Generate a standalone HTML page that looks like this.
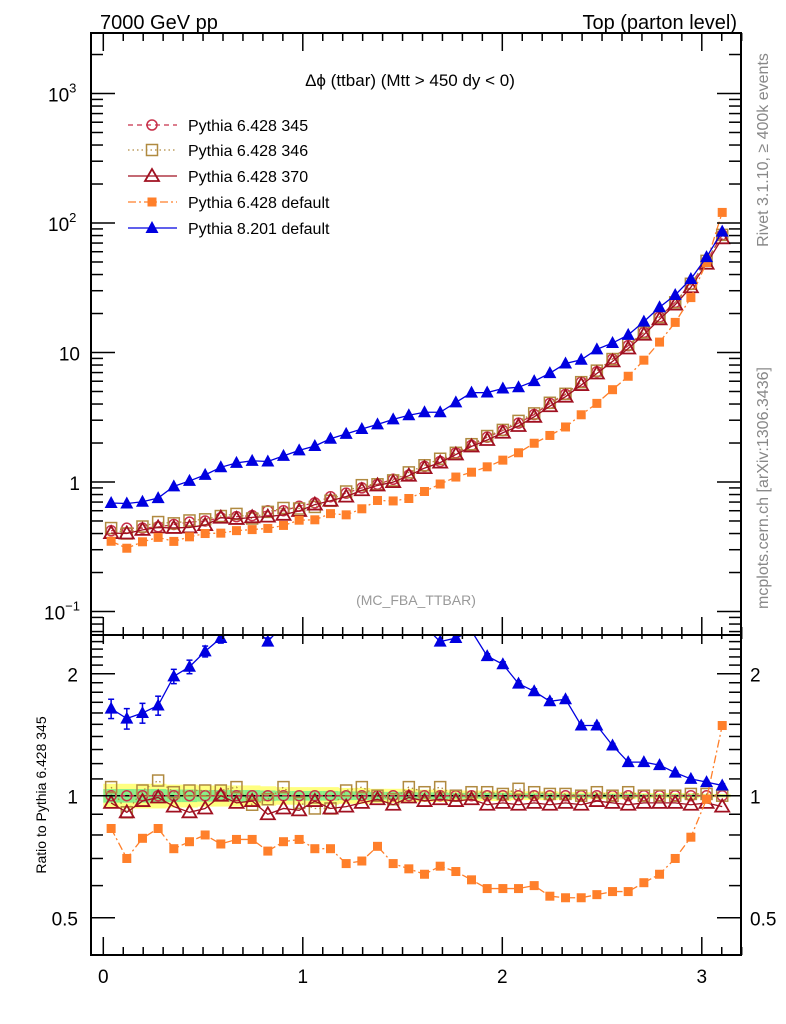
<!DOCTYPE html>
<html><head><meta charset="utf-8"><style>
html,body{margin:0;padding:0;background:#fff}
svg{display:block;font-family:"Liberation Sans",sans-serif}
</style></head><body>
<svg id="c" width="786" height="1024" viewBox="0 0 786 1024" xmlns="http://www.w3.org/2000/svg">
<defs>
<clipPath id="cm"><rect x="91" y="33" width="650" height="602"/></clipPath>
<clipPath id="cr"><rect x="91" y="635" width="650" height="320"/></clipPath>
</defs>
<text x="100" y="29" font-size="20">7000 GeV pp</text>
<text x="737" y="29" font-size="20" text-anchor="end">Top (parton level)</text>
<text x="410" y="86" font-size="17" text-anchor="middle">Δϕ (ttbar) (Mtt &gt; 450 dy &lt; 0)</text>
<text x="416" y="605" font-size="14" fill="#999" text-anchor="middle">(MC_FBA_TTBAR)</text>
<text transform="translate(768,150) rotate(-90)" font-size="16" fill="#888" text-anchor="middle">Rivet 3.1.10, ≥ 400k events</text>
<text transform="translate(768,488) rotate(-90)" font-size="16" fill="#888" text-anchor="middle">mcplots.cern.ch [arXiv:1306.3436]</text>
<text transform="translate(46,795) rotate(-90)" font-size="14" text-anchor="middle">Ratio to Pythia 6.428 345</text>
<g id="g"></g>
<rect x="91" y="33" width="650" height="602" fill="none" stroke="#000" stroke-width="2"/>
<rect x="91" y="635" width="650" height="320" fill="none" stroke="#000" stroke-width="2"/>
</svg>
<script>
const base345 = [0.42,0.44,0.44,0.45,0.47,0.49,0.50,0.53,0.54,0.55,0.60,0.60,0.65,0.69,0.77,0.82,0.90,0.96,1.05,1.13,1.32,1.44,1.68,1.92,2.22,2.5,2.85,3.32,4.05,4.75,5.9,7.1,8.9,11.3,14.3,18.8,24.4,33.6,50.5,81];
const ratio346 = [1.05,0.91,1.03,1.09,1.02,1.03,1.03,1.03,1.05,0.95,0.98,1.05,0.96,0.93,0.93,1.03,1.05,1.00,0.98,1.05,1.02,1.05,1.0,1.02,1.02,1.01,1.04,1.02,1.01,1.01,1.0,1.02,1.0,1.02,1.0,1.0,1.0,1.01,1.01,1.0];
const ratio370 = [0.96,0.91,0.97,0.99,0.94,0.91,0.93,1.0,0.96,0.97,0.90,0.93,0.92,0.97,0.93,0.94,0.96,0.98,0.95,0.99,0.97,0.98,0.97,0.98,0.95,0.96,0.95,0.96,0.95,0.96,0.95,0.97,0.96,0.95,0.96,0.96,0.96,0.95,0.96,0.94];
const ratioDef6 = [0.83,0.70,0.785,0.83,0.74,0.77,0.80,0.76,0.78,0.78,0.73,0.77,0.78,0.74,0.74,0.68,0.69,0.75,0.68,0.66,0.64,0.67,0.65,0.62,0.59,0.59,0.59,0.60,0.565,0.56,0.56,0.57,0.58,0.58,0.61,0.64,0.70,0.79,0.98,1.49];
const ratioDef8 = [1.64,1.55,1.60,1.67,1.97,2.08,2.27,2.45,2.6,2.65,2.4,2.65,2.7,2.75,2.8,2.87,2.85,2.9,2.9,2.9,2.62,2.4,2.45,2.55,2.21,2.11,1.89,1.81,1.71,1.73,1.49,1.49,1.33,1.21,1.21,1.19,1.14,1.10,1.08,1.06];
const errDef8 = [0.09,0.09,0.09,0.09,0.08,0.08,0.07,0.07,0.06,0.06,0.05,0.05,0.05,0.05,0.05,0.05,0.04,0.04,0.04,0.04,0.04,0.03,0.03,0.03,0.03,0.03,0.03,0.025,0.025,0.02,0.02,0.02,0.015,0.015,0.01,0.01,0.01,0.01,0.01,0.01];
const bandYellow = [0.07,0.07,0.07,0.07,0.065,0.065,0.06,0.06,0.06,0.06,0.055,0.05,0.05,0.05,0.05,0.045,0.045,0.04,0.04,0.04,0.035,0.035,0.03,0.03,0.03,0.03,0.025,0.025,0.025,0.02,0.02,0.02,0.02,0.02,0.015,0.015,0.015,0.015,0.01,0.01];
const xTicks = [0,1,2,3];
const mainTicks = [{v:1000,t:"10",e:"3"},{v:100,t:"10",e:"2"},{v:10,t:"10",e:""},{v:1,t:"1",e:""},{v:0.1,t:"10",e:"−1"}];
const ratioTicks = [{v:2,t:"2"},{v:1,t:"1"},{v:0.5,t:"0.5"}];

const NB = base345.length, W = Math.PI/NB;
const X = v => 103.3 + v*199.5;
const YM = v => 482 - Math.log10(v)*129.5;
const YR = r => 795.7 - Math.log2(r)*122;
const NS = "http://www.w3.org/2000/svg";
const g = document.getElementById('g');
function mk(tag, attrs, parent){const e=document.createElementNS(NS,tag);for(const k in attrs)e.setAttribute(k,attrs[k]);(parent||g).appendChild(e);return e;}
const cx = i => X((i+0.5)*W);

const bandG = mk('g',{});


for(let i=0;i<NB;i++){
  const x0=X(i*W), x1=X((i+1)*W), e=bandYellow[i];
  mk('rect',{x:x0,y:YR(1+e),width:x1-x0+0.5,height:YR(1-e)-YR(1+e),fill:'#ffff80'},bandG);
  mk('rect',{x:x0,y:YR(1+e*0.55),width:x1-x0+0.5,height:YR(1-e*0.55)-YR(1+e*0.55),fill:'#88ee88'},bandG);
}
const one = mk('line',{x1:91,x2:741,y1:YR(1),y2:YR(1),stroke:'#000','stroke-width':1.5});



const series = [
 {name:'pythia-6428-345', col:'#c8304a', dash:'5,4', mk:'circle', fill:'none', r: base345.map(()=>1)},
 {name:'pythia-6428-346', col:'#b08a40', dash:'1.5,3', mk:'square', fill:'none', r: ratio346},
 {name:'pythia-6428-370', col:'#a01020', dash:'', mk:'tri', fill:'none', r: ratio370},
 {name:'pythia-6428-default', col:'#ff7f2a', dash:'8,3,2,3', mk:'fsquare', fill:'#ff7f2a', r: ratioDef6},
 {name:'pythia-8201-default', col:'#0000e0', dash:'', mk:'ftri', fill:'#0000e0', r: ratioDef8, err: errDef8}
];
function marker(s,x,y,parent){
  const sw=1.5;
  if(s.mk==='circle') return mk('circle',{cx:x,cy:y,r:5,fill:'none',stroke:s.col,'stroke-width':sw},parent);
  if(s.mk==='square') return mk('rect',{x:x-5.5,y:y-5.5,width:11,height:11,fill:'none',stroke:s.col,'stroke-width':sw},parent);
  if(s.mk==='fsquare') return mk('rect',{x:x-4.5,y:y-4.5,width:9,height:9,fill:s.col},parent);
  if(s.mk==='tri') return mk('polygon',{points:`${x},${y-7} ${x-7},${y+5} ${x+7},${y+5}`,fill:'none',stroke:s.col,'stroke-width':sw+0.3},parent);
  return mk('polygon',{points:`${x},${y-7} ${x-6.5},${y+5} ${x+6.5},${y+5}`,fill:s.col},parent);
}
series.forEach(s=>{
  const gm = mk('g',{'clip-path':'url(#cm)'});
  
  
  const gr = mk('g',{'clip-path':'url(#cr)'});
  
  
  const pm=[], pr=[];
  for(let i=0;i<NB;i++){ pm.push(cx(i)+','+YM(base345[i]*s.r[i])); pr.push(cx(i)+','+YR(s.r[i])); }
  mk('polyline',{points:pm.join(' '),fill:'none',stroke:s.col,'stroke-width':1.3,'stroke-dasharray':s.dash},gm);
  mk('polyline',{points:pr.join(' '),fill:'none',stroke:s.col,'stroke-width':1.3,'stroke-dasharray':s.dash},gr);
  for(let i=0;i<NB;i++){
    const m1 = marker(s,cx(i),YM(base345[i]*s.r[i]),gm);
    
    
    if(s.err){
      const x=cx(i);
      mk('line',{x1:x,x2:x,y1:YR(s.r[i]+s.err[i]),y2:YR(s.r[i]-s.err[i]),stroke:s.col,'stroke-width':1.5},gr);
      mk('line',{x1:x-3,x2:x+3,y1:YR(s.r[i]+s.err[i]),y2:YR(s.r[i]+s.err[i]),stroke:s.col,'stroke-width':1.5},gr);
      mk('line',{x1:x-3,x2:x+3,y1:YR(s.r[i]-s.err[i]),y2:YR(s.r[i]-s.err[i]),stroke:s.col,'stroke-width':1.5},gr);
    }
    const m2 = marker(s,cx(i),YR(s.r[i]),gr);
    
    
  }
});

const legY=[125,150,176,202,228];
const labels=['Pythia 6.428 345','Pythia 6.428 346','Pythia 6.428 370','Pythia 6.428 default','Pythia 8.201 default'];
series.forEach((s,k)=>{
  const lg = mk('g',{});
  
  
  mk('line',{x1:128,x2:177,y1:legY[k],y2:legY[k],stroke:s.col,'stroke-width':1.3,'stroke-dasharray':s.dash},lg);
  marker(s,152,legY[k],lg);
  const t=mk('text',{x:188,y:legY[k]+6,'font-size':16},lg); t.textContent=labels[k];
});

const ax = mk('g',{stroke:'#000','stroke-width':1.5});


for(let v=0; v<=3.25; v+=0.1){
  const x=X(v), major=Math.abs(v-Math.round(v))<1e-6;
  const L=major?18:8;
  mk('line',{x1:x,x2:x,y1:33,y2:33+L},ax);
  mk('line',{x1:x,x2:x,y1:635,y2:635-L},ax);
  mk('line',{x1:x,x2:x,y1:635,y2:635+L*0.5},ax);
  mk('line',{x1:x,x2:x,y1:955,y2:955-L},ax);
}
for(let d=-2; d<=3; d++){
  for(let m=1;m<=9;m++){
    const v=m*Math.pow(10,d), y=YM(v);
    if(y<33||y>635) continue;
    const L=m===1?24:12;
    mk('line',{x1:91,x2:91+L,y1:y,y2:y},ax);
    mk('line',{x1:741,x2:741-L,y1:y,y2:y},ax);
  }
}
[0.5,0.6,0.7,0.8,0.9,1,1.1,1.2,1.3,1.4,1.5,1.6,1.7,1.8,1.9,2,2.1,2.2,2.3,2.4].forEach(v=>{
  const y=YR(v), major=(v===0.5||v===1||v===2), L=major?24:12;
  mk('line',{x1:91,x2:91+L,y1:y,y2:y},ax);
  mk('line',{x1:741,x2:741-L,y1:y,y2:y},ax);
});
xTicks.forEach(v=>{
  const t=mk('text',{x:X(v),y:983,'font-size':19,'text-anchor':'middle'});
  t.textContent=v;
  
  
});
mainTicks.forEach(o=>{
  const t=mk('text',{x:80,y:YM(o.v)+8,'font-size':19,'text-anchor':'end'});
  t.textContent=o.t;
  if(o.e){const s=mk('tspan',{'font-size':13,dy:-9},t); s.textContent=o.e;}
  t.setAttribute('text-anchor', o.e ? 'start' : 'end');
  if(o.e) t.setAttribute('x', o.e.length>1?44:48);
  
  
});
ratioTicks.forEach(o=>{
  const t=mk('text',{x:78,y:YR(o.v)+8,'font-size':19,'text-anchor':'end'}); t.textContent=o.t;
  
  
  const t2=mk('text',{x:750,y:YR(o.v)+8,'font-size':19}); t2.textContent=o.t;
  
  
});
</script>
</body></html>
